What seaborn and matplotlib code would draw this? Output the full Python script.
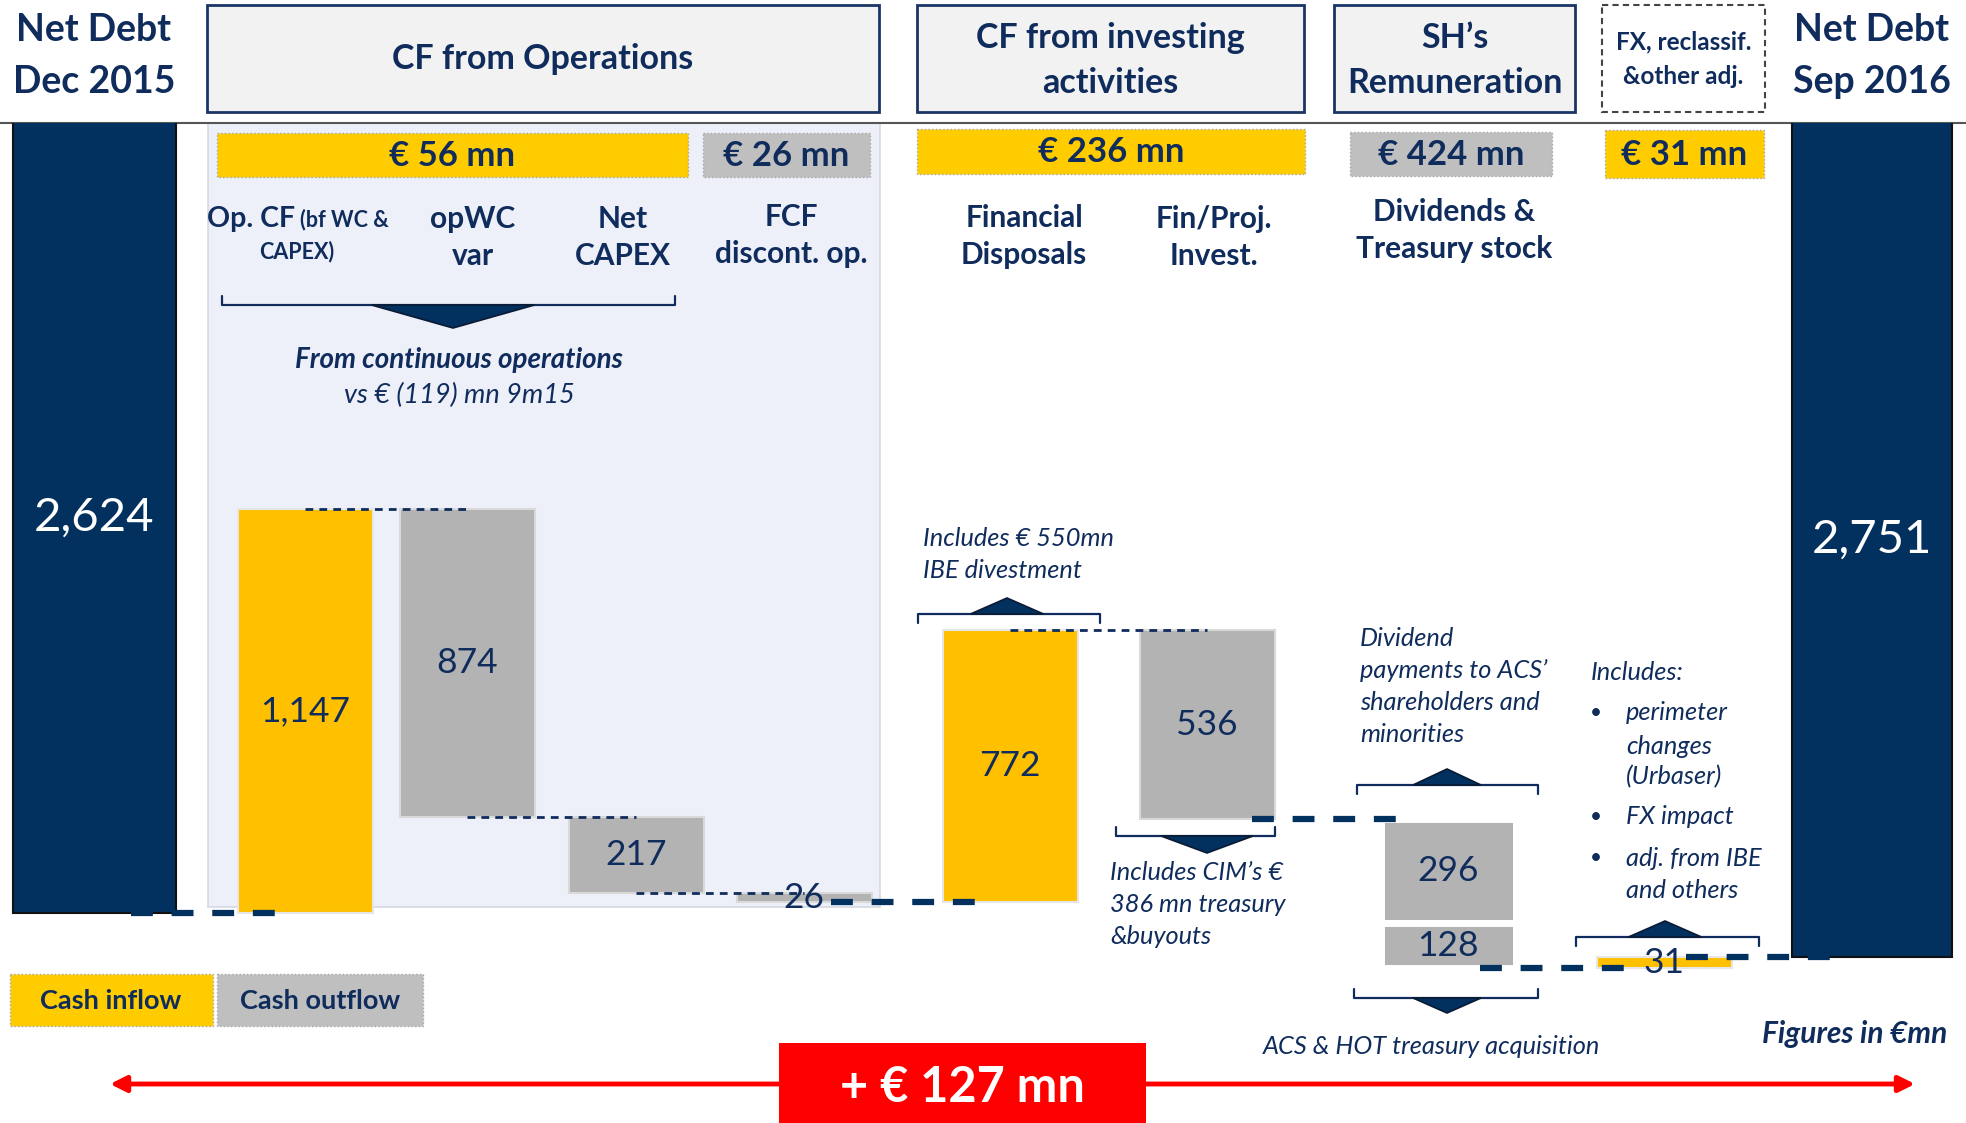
import numpy as np
import pandas as pd
import matplotlib
matplotlib.use("Agg")
import matplotlib.pyplot as plt
import seaborn as sns
from matplotlib.patches import Rectangle, Polygon

# ---------------- data ----------------
net_debt_labels = ["Net Debt\nDec 2015", "Net Debt\nSep 2016"]
net_debt_values = [2624, 2751]
net_debt_text = ["2,624", "2,751"]

step_names = ["Op. CF", "opWC var", "Net CAPEX", "FCF discont. op.",
              "Financial Disposals", "Fin/Proj. Invest.", "Dividends",
              "Treasury stock", "FX & other adj."]
# change in net debt (negative = cash inflow)
step_values = [-1147, 874, 217, 26, -772, 536, 296, 128, -31]
step_text = ["1,147", "874", "217", "26", "772", "536", "296", "128", "31"]

group_titles = ["CF from Operations", "CF from investing\nactivities",
                "SH\u2019s\nRemuneration", "FX, reclassif.\n&other adj."]
group_amounts = ["\u20ac 56 mn", "\u20ac 26 mn", "\u20ac 236 mn", "\u20ac 424 mn", "\u20ac 31 mn"]
group_kinds = ["inflow", "outflow", "inflow", "outflow", "inflow"]
category_labels = ["opWC\nvar", "Net\nCAPEX", "FCF\ndiscont. op.",
                   "Financial\nDisposals", "Fin/Proj.\nInvest.", "Dividends &\nTreasury stock"]
total_change_text = "+ \u20ac 127 mn"

# ---------------- layout (pixels) ----------------
W, H = 1966, 1123
nd_x = [94, 1872]
nd_w = [163, 160]
step_x = [305, 467, 636, 804, 1010, 1207, 1448, 1448, 1664]
step_w = 135
# scale of the waterfall: pixel = A + K * value
K, A = 0.352, -11.0
HEADER_Y = 123

NAVY_T = "#0f2c5c"
NAVY_B = "#02305f"
YEL = "#ffc000"
YEL_BOX = "#ffcc00"
GREY = "#b3b3b3"
GREY_BOX = "#bfbfbf"

sns.set_theme(style="white")
plt.rcParams["font.family"] = ["Lato", "DejaVu Sans"]

fig = plt.figure(figsize=(W / 100, H / 100), dpi=100)
ov = fig.add_axes([0, 0, 1, 1], zorder=0)
ov.set_xlim(0, W)
ov.set_ylim(H, 0)
ov.axis("off")

ax = fig.add_axes([0, 0, 1, (H - HEADER_Y) / H], zorder=2)
ax.patch.set_alpha(0)
ax.set_xlim(0, W)
ax.set_ylim((H - A) / K, (HEADER_Y - A) / K)
ax.axis("off")


def txt(x, y, s, size, weight="normal", style="normal", color=NAVY_T,
        ha="center", va="center", axis=None, z=5):
    (axis or ov).text(x, y, s, fontsize=size, fontweight=weight, fontstyle=style,
                      color=color, ha=ha, va=va, zorder=z)


def lines(x, y0, dy, s, size, **kw):
    for i, ln in enumerate(s.split("\n")):
        txt(x, y0 + i * dy, ln, size, **kw)


def brace(x0, x1, y, tri_c, tri_w, tri_h, up):
    tick = 9 if up else -9
    ov.plot([x0, x0, x1, x1], [y + tick, y, y, y + tick], color=NAVY_T, lw=1.6, zorder=4)
    apex = y - tri_h if up else y + tri_h
    ov.add_patch(Polygon([(tri_c - tri_w / 2, y), (tri_c + tri_w / 2, y), (tri_c, apex)],
                         closed=True, facecolor=NAVY_B, edgecolor="#0a1a33", lw=1.2, zorder=4))


# ---------------- header ----------------
ov.plot([0, W], [HEADER_Y, HEADER_Y], color="#555555", lw=1.5, zorder=1)
for i, x in enumerate(nd_x):
    lines(x, 30, 52, net_debt_labels[i], 27, weight="bold")

boxes = [(207, 879), (917, 1304), (1334, 1575), (1602, 1765)]
for i, (x0, x1) in enumerate(boxes):
    dashed = i == 3
    ov.add_patch(Rectangle((x0, 5), x1 - x0, 107,
                           facecolor="white" if dashed else "#f2f2f2",
                           edgecolor="#444444" if dashed else "#1b3466",
                           lw=1.5 if dashed else 2.0,
                           linestyle=(0, (3, 2)) if dashed else "solid", zorder=2))
    cx = (x0 + x1) / 2
    t = group_titles[i]
    if dashed:
        lines(cx, 42, 35, t, 17.5, weight="bold")
    elif "\n" in t:
        lines(cx, 38, 45, t, 24.5, weight="bold")
    else:
        txt(cx, 59, t, 24.5, weight="bold")

# panel behind operations
ov.add_patch(Rectangle((208, 123), 672, 784, facecolor="#edf0f8",
                       edgecolor="#d6d9e0", lw=1.2, zorder=0.5))

# amount boxes
amt_boxes = [(217, 688, 133, 177), (703, 870, 133, 177), (917, 1305, 129, 174),
             (1350, 1552, 132, 176), (1605, 1764, 130, 178)]
for (x0, x1, y0, y1), s, kind in zip(amt_boxes, group_amounts, group_kinds):
    ov.add_patch(Rectangle((x0, y0), x1 - x0, y1 - y0,
                           facecolor=YEL_BOX if kind == "inflow" else GREY_BOX,
                           edgecolor="#a6a6a6", lw=1.0, linestyle=":", zorder=2))
    txt((x0 + x1) / 2, (y0 + y1) / 2 + 1, s, 25, weight="bold")

# category labels
txt(207, 219, "Op. CF", 20.5, weight="bold", ha="left")
txt(300, 220, "(bf WC &", 15.5, weight="bold", ha="left")
txt(297, 252, "CAPEX)", 15.5, weight="bold")
cat_pos = [(473, 219), (623, 219), (791, 217), (1024, 218), (1214, 219), (1454, 212)]
for (x, y), s in zip(cat_pos, category_labels):
    lines(x, y, 37, s, 21.5, weight="bold")

# operations brace
brace(222, 675, 305, 453, 163, 23, up=False)
txt(459, 360, "From continuous operations", 20, weight="bold", style="italic")
txt(459, 395, "vs \u20ac (119) mn 9m15", 19.5, style="italic")

# ---------------- waterfall ----------------
levels = np.concatenate([[net_debt_values[0]], net_debt_values[0] + np.cumsum(step_values)])

# net debt bars
for x, w, v, s in zip(nd_x, nd_w, net_debt_values, net_debt_text):
    ax.bar(x, v, width=w, bottom=0, color=NAVY_B, edgecolor="#111111", lw=1.5, zorder=3)
    txt(x, (v + (HEADER_Y - A) / K) / 2, s, 34, color="white", axis=ax, z=6)

for i, (x, d, s) in enumerate(zip(step_x, step_values, step_text)):
    lo, hi = levels[i], levels[i + 1]
    col = YEL if d < 0 else GREY
    split = step_names[i] in ("Dividends", "Treasury stock")
    ax.bar(x, hi - lo, width=step_w, bottom=lo, color=col,
           edgecolor="white" if split else ("#d9d9d9" if d > 0 else "#e6e6e6"),
           lw=5 if split else 1.5, zorder=3)
    txt(x, (lo + hi) / 2, s, 25.5, axis=ax, z=6)

# thin dashed connectors (centre to centre)
for i in [0, 1, 2, 4]:
    ax.plot([step_x[i], step_x[i + 1]], [levels[i + 1]] * 2, color=NAVY_T, lw=2,
            dashes=(2.8, 2.2), zorder=5)

# thick dashed connectors (across gaps)
thick = [((nd_x[0] + nd_w[0] / 2 + step_x[0] - step_w / 2) / 2, levels[0]),
         ((step_x[3] + step_x[4]) / 2, levels[4]),
         ((step_x[5] + step_w / 2 + step_x[6] - step_w / 2) / 2, levels[6]),
         ((step_x[7] + step_w / 2 + step_x[8] - step_w / 2) / 2, levels[8]),
         ((step_x[8] + step_w / 2 + nd_x[1] - nd_w[1] / 2) / 2, levels[9])]
for cx, lv in thick:
    ax.plot([cx - 76, cx + 76], [lv, lv], color=NAVY_B, lw=4.5,
            dashes=(3.5, 3.0), zorder=5, solid_capstyle="butt")

# ---------------- annotations ----------------
IT = 18.3
lines(923, 539, 31, "Includes \u20ac 550mn\nIBE divestment", IT, style="italic", ha="left")
brace(918, 1100, 614, 1007, 73, 16, up=True)

brace(1116, 1275, 836, 1207, 92, 17, up=False)
lines(1110, 873, 32, "Includes CIM\u2019s \u20ac\n386 mn treasury\n&buyouts", IT,
      style="italic", ha="left")

lines(1360, 638, 32, "Dividend\npayments to ACS\u2019\nshareholders and\nminorities", IT,
      style="italic", ha="left")
brace(1357, 1538, 785, 1447, 68, 16, up=True)
brace(1354, 1538, 998, 1447, 68, 15, up=False)
txt(1432, 1047, "ACS & HOT treasury acquisition", IT, style="italic")

txt(1591, 673, "Includes:", IT, style="italic", ha="left")
bullets = [(713, "perimeter", True), (746, "changes", False), (777, "(Urbaser)", False),
           (817, "FX impact", True), (858, "adj. from IBE", True), (890, "and others", False)]
for y, s, b in bullets:
    if b:
        txt(1596, y, "\u2022", 15, ha="center")
    txt(1626, y, s, IT, style="italic", ha="left")
brace(1576, 1759, 937, 1665, 73, 16, up=True)

# legend
ov.add_patch(Rectangle((10, 974), 203, 52, facecolor=YEL_BOX, edgecolor="#a6a6a6",
                       lw=1, linestyle=":", zorder=2))
ov.add_patch(Rectangle((217, 974), 206, 52, facecolor=GREY_BOX, edgecolor="#a6a6a6",
                       lw=1, linestyle=":", zorder=2))
txt(111, 1001, "Cash inflow", 19.5, weight="bold")
txt(320, 1001, "Cash outflow", 19.5, weight="bold")

txt(1947, 1034, "Figures in \u20acmn", 21.5, weight="bold", style="italic", ha="right")

# total change arrow
ov.annotate("", xy=(110, 1084), xytext=(1915, 1084),
            arrowprops=dict(arrowstyle="<|-|>", color="#ff0000", lw=3.5,
                            mutation_scale=24, shrinkA=0, shrinkB=0), zorder=3)
ov.add_patch(Rectangle((779, 1043), 367, 82, facecolor="#ff0000", edgecolor="none", zorder=4))
txt(962, 1088, total_change_text, 35, weight="bold", color="white", z=6)

fig.savefig("out.png", dpi=100)
